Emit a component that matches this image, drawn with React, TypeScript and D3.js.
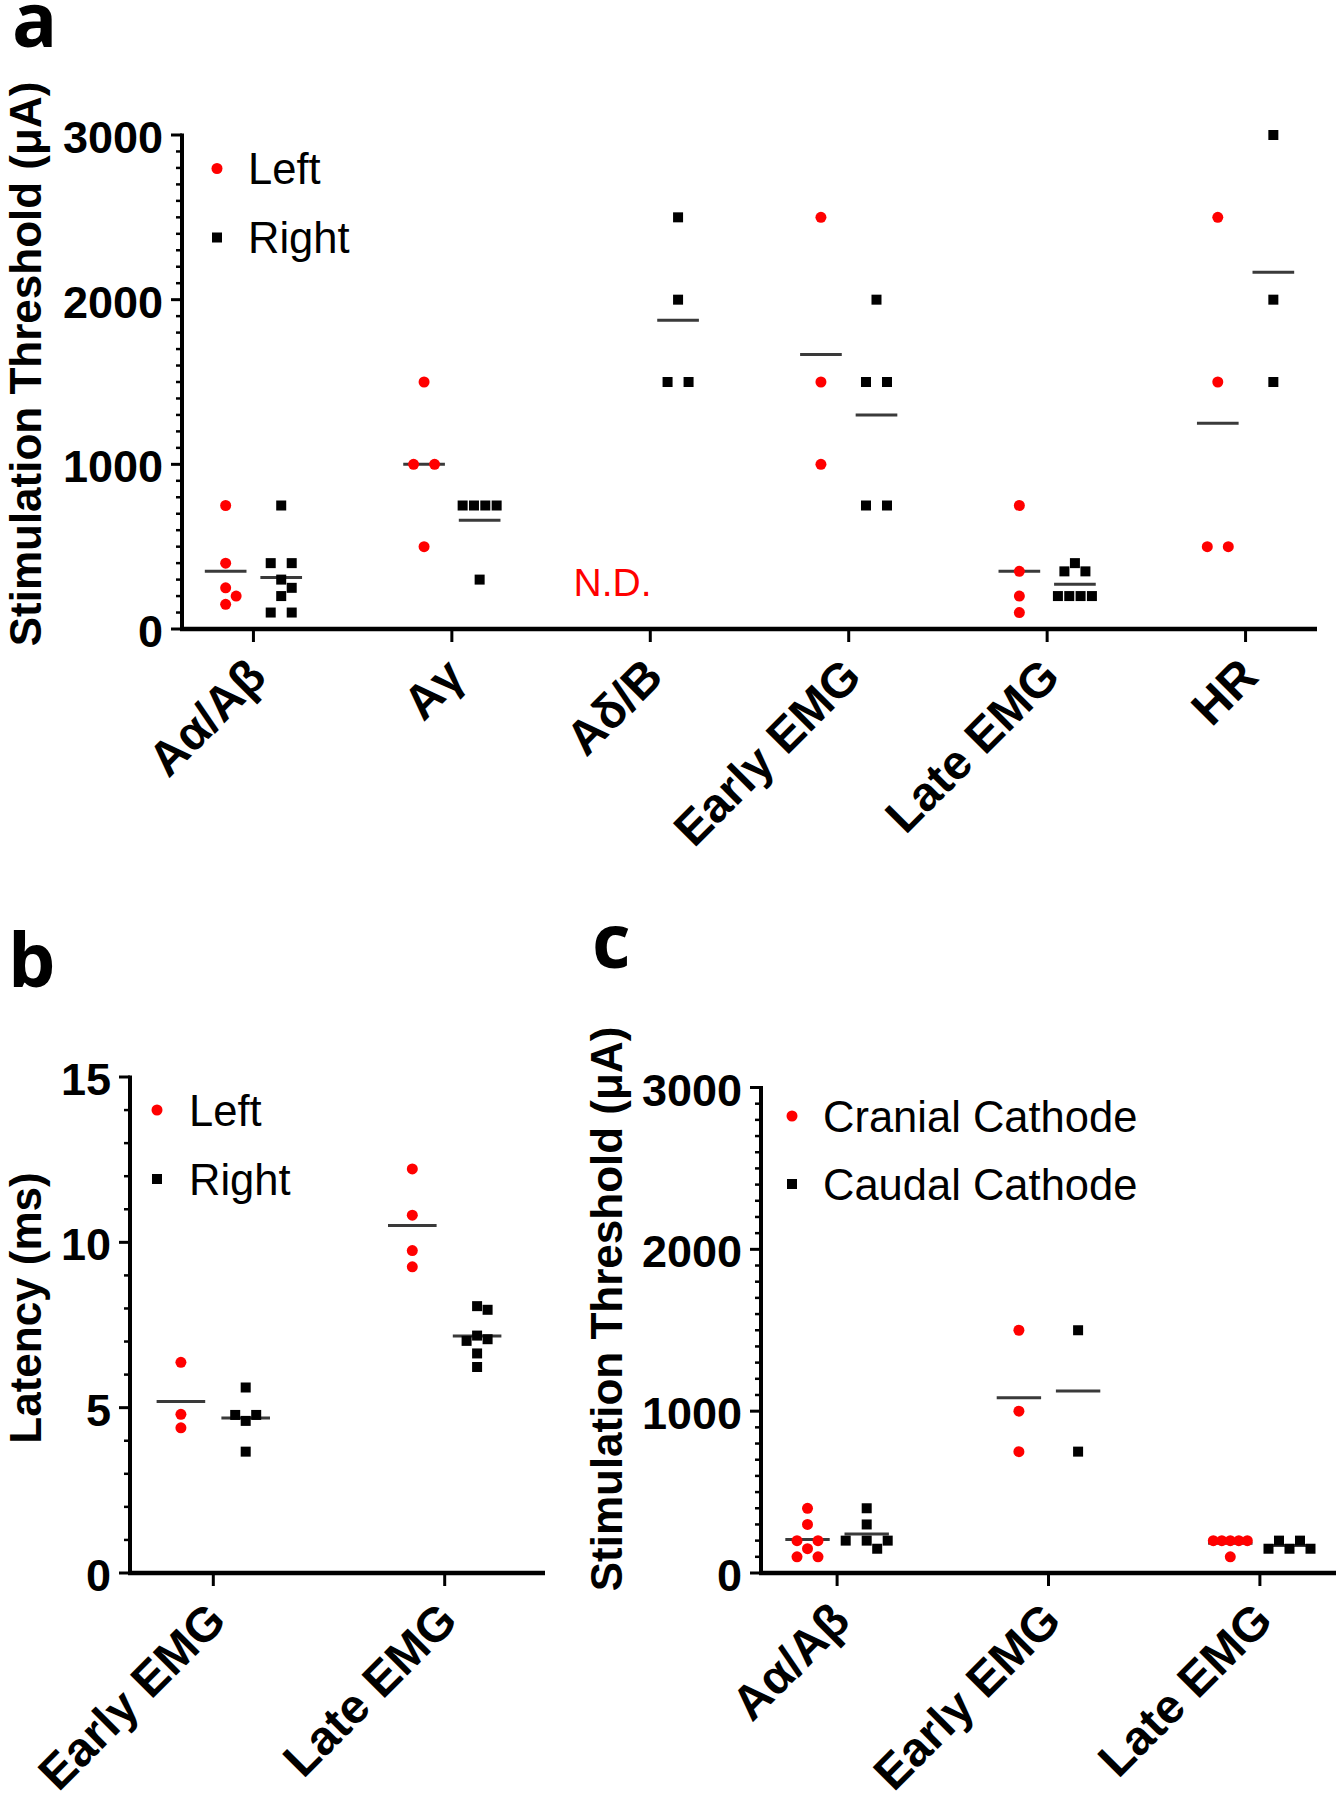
import React from "react";
import * as d3 from "d3";

const FONT = "'Liberation Sans', Arial, Helvetica, sans-serif";
const LABEL_FONT = "'Open Sans', 'Liberation Sans', Arial, sans-serif";
const RED = "#ff0000";
const BLACK = "#000000";

// ---------- Panel a data ----------
const aCategories = ["Aα/Aβ", "Aγ", "Aδ/B", "Early EMG", "Late EMG", "HR"];
const aLeft: number[][] = [
  [750, 400, 250, 200, 150],
  [1500, 1000, 1000, 500],
  [],
  [2500, 1500, 1000],
  [750, 350, 200, 100],
  [2500, 1500, 500, 500],
];
const aRight: number[][] = [
  [750, 400, 400, 300, 250, 200, 100, 100],
  [750, 750, 750, 750, 300],
  [2500, 2000, 1500, 1500],
  [2000, 1500, 1500, 750, 750],
  [400, 350, 350, 200, 200, 200, 200],
  [3000, 2000, 1500],
];
const aYTicks = [0, 1000, 2000, 3000];
const aLegend = ["Left", "Right"];
const aNotDetected = ["Aδ/B"];

// ---------- Panel b data ----------
const bCategories = ["Early EMG", "Late EMG"];
const bLeft: number[][] = [
  [6.37, 4.8, 4.39],
  [12.22, 10.82, 9.75, 9.26],
];
const bRight: number[][] = [
  [5.61, 4.78, 4.6, 4.78, 3.67],
  [8.07, 7.96, 7.18, 7.07, 7.02, 6.64, 6.23],
];
const bYTicks = [0, 5, 10, 15];
const bLegend = ["Left", "Right"];

// ---------- Panel c data ----------
const cCategories = ["Aα/Aβ", "Early EMG", "Late EMG"];
const cCranial: number[][] = [
  [400, 300, 200, 200, 150, 100, 100],
  [1500, 1000, 750],
  [200, 200, 200, 200, 200, 100],
];
const cCaudal: number[][] = [
  [400, 300, 200, 200, 200, 150],
  [1500, 750],
  [200, 200, 150, 150, 150],
];
const cYTicks = [0, 1000, 2000, 3000];
const cLegend = ["Cranial Cathode", "Caudal Cathode"];

const yTitleThreshold = "Stimulation Threshold (μA)";
const yTitleLatency = "Latency (ms)";

type Placed = { dx: number; py: number; v: number };

function swarm(values: number[], y: (v: number) => number, size = 10): Placed[] {
  const sorted = [...values].sort((a, b) => b - a);
  const rows: number[][] = [];
  for (const v of sorted) {
    const last = rows[rows.length - 1];
    if (last && last[0] === v) last.push(v);
    else rows.push([v]);
  }
  const placed: Placed[] = [];
  for (const row of rows) {
    const n = row.length;
    const sp = n <= 3 ? 21 : 34 / (n - 1);
    const base = row.map((_, i) => (i - (n - 1) / 2) * sp);
    const py = y(row[0]);
    const shifts = [0, 10.5, -10.5, 21, -21];
    let chosen = 0;
    for (const s of shifts) {
      const ok = base.every((b) =>
        placed.every((p) => !(Math.abs(p.dx - (b + s)) < size && Math.abs(p.py - py) < size))
      );
      if (ok) {
        chosen = s;
        break;
      }
    }
    base.forEach((b) => placed.push({ dx: b + chosen, py, v: row[0] }));
  }
  return placed;
}

type PanelProps = {
  categories: string[];
  s1: number[][];
  s2: number[][];
  yMax: number;
  majorTicks: number[];
  minorStep: number;
  x0: number;
  x1: number;
  axisEnd?: number;
  yTop: number;
  yBottom: number;
  title: string;
  titleX: number;
  titleY: number;
  legend: string[];
  legendSymX: number;
  legendTextX: number;
  legendRows: number[];
  label: string;
  labelX: number;
  labelY: number;
  nd?: string[];
};

function Panel(p: PanelProps) {
  const x = d3.scalePoint<string>().domain(p.categories).range([p.x0, p.x1]).padding(0.36);
  const y = d3.scaleLinear().domain([0, p.yMax]).range([p.yBottom, p.yTop]);
  const step = x.step();
  const off = step * 0.14;
  const half = step * 0.105;
  const minor = d3
    .range(0, p.yMax + p.minorStep / 2, p.minorStep)
    .filter((t) => !p.majorTicks.some((m) => Math.abs(m - t) < 1e-9));

  const series = [
    { data: p.s1, sign: -1, color: RED, shape: "circle" },
    { data: p.s2, sign: 1, color: BLACK, shape: "square" },
  ];

  return (
    <g>
      {/* panel label */}
      <text x={p.labelX} y={p.labelY} fontFamily={LABEL_FONT} fontWeight="bold" fontSize={75} fill="#000">
        {p.label}
      </text>
      {/* y title */}
      <text
        transform={`translate(${p.titleX},${p.titleY}) rotate(-90)`}
        textAnchor="middle"
        fontFamily={FONT}
        fontWeight="bold"
        fontSize={44}
        fill="#000"
      >
        {p.title}
      </text>
      {/* y axis */}
      <line x1={p.x0} x2={p.x0} y1={p.yTop - 1.5} y2={p.yBottom + 2} stroke="#000" strokeWidth={4} />
      {p.majorTicks.map((t) => (
        <g key={"M" + t}>
          <line x1={p.x0 - 11} x2={p.x0} y1={y(t)} y2={y(t)} stroke="#000" strokeWidth={3} />
          <text
            x={p.x0 - 19}
            y={y(t) + 18}
            textAnchor="end"
            fontFamily={FONT}
            fontWeight="bold"
            fontSize={45}
            fill="#000"
          >
            {t}
          </text>
        </g>
      ))}
      {minor.map((t) => (
        <line key={"m" + t} x1={p.x0 - 6} x2={p.x0} y1={y(t)} y2={y(t)} stroke="#000" strokeWidth={2.5} />
      ))}
      {/* x axis */}
      <line
        x1={p.x0 - 2}
        x2={p.axisEnd ?? p.x1}
        y1={p.yBottom}
        y2={p.yBottom}
        stroke="#000"
        strokeWidth={4.5}
      />
      {p.categories.map((c) => (
        <g key={"x" + c}>
          <line x1={x(c)!} x2={x(c)!} y1={p.yBottom} y2={p.yBottom + 13} stroke="#000" strokeWidth={3} />
          <text
            transform={`translate(${x(c)! + 15},${p.yBottom + 50}) rotate(-45)`}
            textAnchor="end"
            fontFamily={FONT}
            fontWeight="bold"
            fontSize={48}
            fill="#000"
          >
            {c}
          </text>
        </g>
      ))}
      {/* mean lines */}
      {series.map((s, si) =>
        p.categories.map((c, ci) => {
          const vals = s.data[ci];
          if (!vals || vals.length === 0) return null;
          const m = d3.mean(vals)!;
          const cx = x(c)! + s.sign * off;
          return (
            <line
              key={`mean${si}-${ci}`}
              x1={cx - half}
              x2={cx + half}
              y1={y(m)}
              y2={y(m)}
              stroke="#3a3a3a"
              strokeWidth={3}
            />
          );
        })
      )}
      {/* points */}
      {series.map((s, si) =>
        p.categories.map((c, ci) => {
          const vals = s.data[ci];
          if (!vals || vals.length === 0) return null;
          const cx = x(c)! + s.sign * off;
          const pts = swarm(vals, (v) => y(v));
          return (
            <g key={`pts${si}-${ci}`}>
              {pts.map((pt, k) =>
                s.shape === "circle" ? (
                  <circle key={k} cx={cx + pt.dx} cy={pt.py} r={5.5} fill={s.color} />
                ) : (
                  <rect key={k} x={cx + pt.dx - 5} y={pt.py - 5} width={10} height={10} fill={s.color} />
                )
              )}
            </g>
          );
        })
      )}
      {/* not detected */}
      {(p.nd || []).map((c) => (
        <text
          key={"nd" + c}
          x={x(c)! - off - 10}
          y={p.yBottom - 33}
          textAnchor="middle"
          fontFamily={FONT}
          fontSize={39}
          fill={RED}
        >
          N.D.
        </text>
      ))}
      {/* legend */}
      <circle cx={p.legendSymX} cy={p.legendRows[0]} r={5.5} fill={RED} />
      <rect x={p.legendSymX - 5} y={p.legendRows[1] - 5} width={10} height={10} fill={BLACK} />
      {p.legend.map((l, i) => (
        <text key={l} x={p.legendTextX} y={p.legendRows[i] + 15.5} fontFamily={FONT} fontSize={43.5} fill="#000">
          {l}
        </text>
      ))}
    </g>
  );
}

export default function App() {
  return (
    <svg
      width={1340}
      height={1800}
      viewBox="0 0 1340 1800"
      style={{ position: "absolute", left: 0, top: 0, display: "block", background: "#fff" }}
    >
      <rect x={0} y={0} width={1340} height={1800} fill="#fff" />
      <Panel
        categories={aCategories}
        s1={aLeft}
        s2={aRight}
        yMax={3000}
        majorTicks={aYTicks}
        minorStep={100}
        x0={182}
        x1={1317}
        yTop={135}
        yBottom={629}
        title={yTitleThreshold}
        titleX={41}
        titleY={364}
        legend={aLegend}
        legendSymX={217}
        legendTextX={248}
        legendRows={[168.5, 237.5]}
        label="a"
        labelX={12}
        labelY={47}
        nd={aNotDetected}
      />
      <Panel
        categories={bCategories}
        s1={bLeft}
        s2={bRight}
        yMax={15}
        majorTicks={bYTicks}
        minorStep={1}
        x0={130}
        x1={528}
        axisEnd={545}
        yTop={1077}
        yBottom={1573}
        title={yTitleLatency}
        titleX={41}
        titleY={1308}
        legend={bLegend}
        legendSymX={157}
        legendTextX={189}
        legendRows={[1110, 1179]}
        label="b"
        labelX={8}
        labelY={987}
      />
      <Panel
        categories={cCategories}
        s1={cCranial}
        s2={cCaudal}
        yMax={3000}
        majorTicks={cYTicks}
        minorStep={100}
        x0={761}
        x1={1336}
        yTop={1087.5}
        yBottom={1573}
        title={yTitleThreshold}
        titleX={622}
        titleY={1309}
        legend={cLegend}
        legendSymX={792}
        legendTextX={823}
        legendRows={[1116, 1184]}
        label="c"
        labelX={592}
        labelY={968}
      />
    </svg>
  );
}
